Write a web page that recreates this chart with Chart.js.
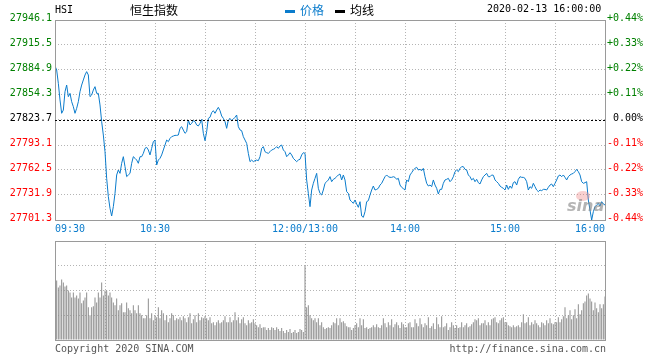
<!DOCTYPE html>
<html>
<head>
<meta charset="utf-8">
<script src="https://cdn.jsdelivr.net/npm/chart.js@4/dist/chart.umd.min.js"></script>
<style>
  body { margin: 0; background: #fff; }
  #wrap { position: relative; width: 660px; height: 360px; }
  #priceChart { position: absolute; left: 0; top: 0; }
  #volChart { position: absolute; left: 0; top: 240px; }
</style>
</head>
<body>
<div id="wrap">
  <canvas id="priceChart" width="660" height="240"></canvas>
  <canvas id="volChart" width="660" height="120"></canvas>
</div>
<script>
const PREV_CLOSE = 27823.7;

// minutes from 09:30, lunch break removed (0..330)
const gridMinutes = [0, 30, 60, 90, 120, 150, 180, 210, 240, 270, 300, 330];
const timeTicks = [0, 60, 150, 210, 270, 330];
const timeLabels = ['09:30', '10:30', '12:00/13:00', '14:00', '15:00', '16:00'];

const priceTicks = [27701.3, 27731.9, 27762.5, 27793.1, 27823.7, 27854.3, 27884.9, 27915.5, 27946.1];
const pctLabels = ['-0.44%', '-0.33%', '-0.22%', '-0.11%', '0.00%', '+0.11%', '+0.22%', '+0.33%', '+0.44%'];
const volTicks = [0, 25, 50, 75, 100];

const prices = [
  27889.8, 27884.9, 27868.6, 27848.2, 27831.9, 27835.9, 27858.4, 27866.5, 27852.3, 27856.3,
  27846.1, 27840.0, 27831.9, 27838.0, 27846.1, 27858.4, 27866.5, 27872.7, 27878.8, 27882.9,
  27878.8, 27852.3, 27854.3, 27860.4, 27864.5, 27856.3, 27856.3, 27842.1, 27821.7, 27805.3,
  27784.9, 27752.3, 27729.9, 27715.6, 27706.2, 27717.6, 27733.9, 27756.4, 27762.5, 27758.4,
  27770.7, 27778.8, 27766.6, 27754.4, 27756.4, 27758.4, 27770.7, 27778.8, 27776.8, 27774.7,
  27770.7, 27778.8, 27778.8, 27782.9, 27789.0, 27790.2, 27787.0, 27780.9, 27789.0, 27797.2,
  27799.2, 27768.6, 27774.7, 27776.8, 27780.9, 27787.0, 27793.1, 27799.2, 27797.2, 27801.2,
  27803.3, 27804.1, 27804.9, 27804.9, 27805.3, 27813.5, 27815.5, 27811.4, 27807.4, 27809.4,
  27823.7, 27817.6, 27819.6, 27822.9, 27821.7, 27817.6, 27816.4, 27819.6, 27824.5, 27807.4,
  27798.4, 27809.4, 27825.7, 27827.0, 27832.7, 27835.1, 27831.9, 27835.9, 27839.2, 27835.1,
  27828.6, 27825.7, 27821.7, 27813.5, 27823.7, 27825.7, 27822.9, 27824.9, 27827.0, 27829.8,
  27815.5, 27811.5, 27810.6, 27803.3, 27799.2, 27795.1, 27782.9, 27772.7, 27774.7, 27772.7,
  27773.9, 27774.7, 27773.9, 27778.8, 27789.0, 27791.1, 27784.9, 27783.7, 27782.9, 27784.9,
  27787.0, 27787.8, 27789.0, 27791.1, 27789.0, 27791.9, 27793.1, 27787.0, 27784.9, 27778.8,
  27780.9, 27783.7, 27780.9, 27776.8, 27774.7, 27772.7, 27774.7, 27775.6, 27780.9, 27783.7,
  27782.9, 27750.3, 27733.9, 27717.6, 27738.0, 27746.2, 27752.3, 27758.4, 27740.1, 27733.9,
  27731.9, 27738.0, 27746.2, 27748.2, 27750.3, 27754.4, 27748.2, 27751.1, 27752.3, 27754.3,
  27756.4, 27757.6, 27750.3, 27756.4, 27750.3, 27736.0, 27734.0, 27725.8, 27723.7, 27721.7,
  27725.8, 27720.9, 27716.8, 27723.7, 27706.2, 27704.6, 27711.5, 27723.7, 27725.0, 27731.9,
  27738.0, 27742.9, 27738.0, 27738.8, 27740.1, 27744.1, 27746.2, 27750.3, 27754.3, 27756.4,
  27754.3, 27753.5, 27753.5, 27754.3, 27753.5, 27751.1, 27752.3, 27744.1, 27741.3, 27739.7,
  27738.0, 27750.3, 27748.2, 27756.4, 27759.2, 27762.5, 27764.5, 27765.8, 27762.5, 27763.3,
  27761.7, 27764.5, 27754.3, 27746.2, 27742.9, 27744.1, 27742.1, 27750.3, 27744.1, 27740.1,
  27733.1, 27738.8, 27738.8, 27746.2, 27750.3, 27751.1, 27752.3, 27748.2, 27750.3, 27754.3,
  27760.5, 27762.5, 27760.5, 27764.5, 27766.6, 27766.6, 27763.3, 27762.5, 27756.4, 27754.3,
  27750.3, 27752.3, 27748.2, 27751.1, 27747.0, 27745.4, 27750.3, 27754.3, 27756.4, 27758.4,
  27754.3, 27754.3, 27756.4, 27756.0, 27750.3, 27748.2, 27746.2, 27742.9, 27741.3, 27740.1,
  27738.0, 27744.1, 27738.8, 27742.9, 27740.1, 27747.0, 27748.2, 27744.1, 27751.1, 27754.3,
  27753.5, 27753.5, 27752.3, 27748.2, 27738.0, 27742.1, 27740.1, 27746.2, 27742.1, 27738.0,
  27736.0, 27738.0, 27737.2, 27738.8, 27738.8, 27738.0, 27741.3, 27744.1, 27745.4, 27742.1,
  27746.2, 27750.3, 27755.2, 27756.4, 27754.3, 27756.4, 27753.5, 27750.3, 27754.3, 27756.4,
  27757.6, 27758.4, 27760.5, 27763.3, 27760.5, 27756.4, 27748.2, 27746.2, 27747.0, 27748.2,
  27725.8, 27713.5, 27701.3, 27711.5, 27717.6, 27719.7, 27721.7, 27718.4, 27723.7, 27720.9, 27719.7
];

const volumes = [
  62, 60, 53, 55, 61, 58, 54, 55, 50, 48, 43, 48, 43, 45, 42, 48, 37, 40, 43, 48, 33, 25, 33, 34, 43, 38, 48, 43, 58, 45,
  50, 50, 45, 48, 43, 38, 35, 42, 30, 35, 37, 28, 28,
  38, 32, 30, 27, 35, 30, 27, 35, 27, 25, 22, 22, 25, 42, 22, 27, 20, 25,
  23, 33, 22, 30, 27, 20, 25, 18, 22, 27, 25, 20, 22, 21, 23, 20, 24, 22, 18, 23, 27, 17, 21, 25, 18, 27, 20, 23, 22, 24,
  22, 20, 23, 17, 18, 15, 18, 20, 17, 18, 20, 24, 18, 18, 23, 18, 20, 28, 20, 23, 17, 21, 23, 17, 15, 20, 17, 18,
  21, 17, 15, 13, 16, 12, 13, 13, 10, 12, 10, 13, 12, 10, 13, 11, 9, 12, 9, 7, 10, 8, 11, 7, 8, 10, 7, 8, 11, 10, 8,
  75,
  33, 35, 25, 22, 20, 22, 18, 22, 15, 18, 13, 11, 12, 13, 12, 15, 18, 17, 22, 15, 22, 18, 19, 17, 14, 13, 13, 10, 12, 15,
  17, 13, 22, 15, 21, 12, 13, 11, 12, 13, 15, 13, 16, 13, 12, 15, 22, 17, 13, 18, 15, 21, 13, 16, 18, 15, 12, 18, 16, 13,
  13, 17, 18, 13, 13, 21, 17, 14, 22, 16, 13, 17, 15, 23, 12, 14, 17, 11, 23, 16, 13, 24, 13, 14, 17, 10, 13, 18, 15, 12,
  15, 12, 13, 18, 13, 15, 17, 13, 14, 16, 18, 21, 20, 22, 15, 17, 17, 20, 15, 18, 15, 21, 22, 23, 18, 17, 20, 22, 23, 18,
  18, 15, 14, 13, 15, 13, 14, 15, 13, 18, 26, 17, 18, 23, 15, 18, 16, 20, 17, 15, 13, 18, 17, 15, 20, 17, 22, 17, 16, 18,
  18, 23, 18, 21, 24, 33, 22, 25, 30, 21, 25, 31, 22, 36, 26, 30, 37, 39, 45, 47, 42, 39, 30, 38, 32, 28, 36, 32, 36, 44
];

const LINE_COLOR = '#0b7ccc';
const GRID_COLOR = '#b4b4b4';
const FRAME_COLOR = '#9a9a9a';
const UP = '#008000', DOWN = '#ff0000';
const MONO = '"DejaVu Sans Mono", monospace';
const CJK = '"Noto Sans CJK SC", sans-serif';

function tickColor(v) {
  if (Math.abs(v - PREV_CLOSE) < 0.05) return '#000';
  return v > PREV_CLOSE ? UP : DOWN;
}

const framePlugin = {
  id: 'frame',
  afterDraw(chart) {
    const { ctx, chartArea: a } = chart;
    ctx.save();
    ctx.strokeStyle = FRAME_COLOR;
    ctx.lineWidth = 1;
    ctx.strokeRect(a.left + 0.5, a.top + 0.5, a.right - a.left, a.bottom - a.top);
    ctx.restore();
  }
};

const headerPlugin = {
  id: 'header',
  afterDraw(chart) {
    const { ctx, scales } = chart;
    ctx.save();
    // 昨收 reference line
    const y = Math.round(scales.y.getPixelForValue(PREV_CLOSE)) + 0.5;
    ctx.strokeStyle = '#000';
    ctx.setLineDash([2, 2]);
    ctx.beginPath();
    ctx.moveTo(chart.chartArea.left, y);
    ctx.lineTo(chart.chartArea.right, y);
    ctx.stroke();
    ctx.setLineDash([]);

    ctx.textBaseline = 'middle';
    ctx.fillStyle = '#000';
    ctx.font = '10px ' + MONO;
    ctx.fillText('HSI', 55, 10);
    ctx.font = '12px ' + CJK;
    ctx.fillText('恒生指数', 130, 10);

    ctx.fillStyle = LINE_COLOR;
    ctx.fillRect(285, 10, 10, 3);
    ctx.fillText('价格', 300, 10);
    ctx.fillStyle = '#000';
    ctx.fillRect(335, 10, 10, 3);
    ctx.fillText('均线', 350, 10);

    ctx.font = '10px ' + MONO;
    ctx.fillText('2020-02-13 16:00:00', 487, 9);

    // watermark
    ctx.fillStyle = 'rgba(235,120,120,0.35)';
    ctx.beginPath();
    ctx.ellipse(583, 196, 7, 5, 0, 0, Math.PI * 2);
    ctx.fill();
    ctx.font = 'italic bold 16px "DejaVu Sans", sans-serif';
    ctx.fillStyle = 'rgba(130,130,130,0.6)';
    ctx.fillText('sina', 567, 207);
    ctx.restore();
  }
};

const footerPlugin = {
  id: 'footer',
  afterDraw(chart) {
    const { ctx } = chart;
    ctx.save();
    ctx.font = '10px ' + MONO;
    ctx.fillStyle = '#555';
    ctx.textBaseline = 'middle';
    ctx.fillText('Copyright 2020 SINA.COM', 55, 109);
    ctx.textAlign = 'right';
    ctx.fillText('http://finance.sina.com.cn', 606, 109);
    ctx.restore();
  }
};

new Chart(document.getElementById('priceChart'), {
  type: 'line',
  data: {
    datasets: [{
      data: prices.map((v, i) => ({ x: i, y: v })),
      borderColor: LINE_COLOR,
      borderWidth: 1,
      pointRadius: 0,
      tension: 0
    }]
  },
  options: {
    responsive: false,
    animation: false,
    layout: { padding: { top: 20, right: 17, left: 0, bottom: 0 } },
    plugins: { legend: { display: false }, tooltip: { enabled: false } },
    scales: {
      x: {
        type: 'linear', min: 0, max: 330,
        afterBuildTicks: s => { s.ticks = gridMinutes.map(v => ({ value: v })); },
        afterFit: s => { s.height = 20; },
        grid: { color: GRID_COLOR, drawTicks: false },
        border: { display: false, dash: [1, 2] },
        ticks: {
          autoSkip: false, maxRotation: 0, align: 'inner', padding: 3,
          color: LINE_COLOR, font: { family: MONO, size: 10 },
          callback: v => { const k = timeTicks.indexOf(v); return k === -1 ? '' : timeLabels[k]; }
        }
      },
      y: {
        min: priceTicks[0], max: priceTicks[priceTicks.length - 1],
        afterBuildTicks: s => { s.ticks = priceTicks.map(v => ({ value: v })); },
        afterFit: s => { s.width = 55; },
        grid: { color: GRID_COLOR, drawTicks: false },
        border: { display: false, dash: [1, 2] },
        ticks: {
          padding: 3, labelOffset: -2,
          font: { family: MONO, size: 10 },
          color: c => tickColor(c.tick.value),
          callback: v => v.toFixed(1)
        }
      },
      y2: {
        position: 'right',
        min: priceTicks[0], max: priceTicks[priceTicks.length - 1],
        afterBuildTicks: s => { s.ticks = priceTicks.map(v => ({ value: v })); },
        afterFit: s => { s.width = 38; },
        grid: { display: false, drawTicks: false },
        border: { display: false },
        ticks: {
          crossAlign: 'far', labelOffset: -2,
          font: { family: MONO, size: 10 },
          color: c => tickColor(c.tick.value),
          callback: (v, i) => pctLabels[i]
        }
      }
    }
  },
  plugins: [framePlugin, headerPlugin]
});

new Chart(document.getElementById('volChart'), {
  type: 'bar',
  data: {
    datasets: [{
      data: volumes.map((v, i) => ({ x: i, y: v })),
      backgroundColor: '#8e8e8e',
      barThickness: 1,
      inflateAmount: 0
    }]
  },
  options: {
    responsive: false,
    animation: false,
    layout: { padding: { top: 1, right: 17, left: 0, bottom: 20 } },
    plugins: { legend: { display: false }, tooltip: { enabled: false } },
    scales: {
      x: {
        type: 'linear', min: 0, max: 330, offset: false,
        afterBuildTicks: s => { s.ticks = gridMinutes.map(v => ({ value: v })); },
        afterFit: s => { s.height = 0; },
        grid: { color: GRID_COLOR, drawTicks: false, offset: false },
        border: { display: false, dash: [1, 2] },
        ticks: { display: false }
      },
      y: {
        min: 0, max: 100,
        afterBuildTicks: s => { s.ticks = volTicks.map(v => ({ value: v })); },
        afterFit: s => { s.width = 55; },
        grid: { color: GRID_COLOR, drawTicks: false },
        border: { display: false, dash: [1, 2] },
        ticks: { display: false }
      },
      y2: {
        position: 'right', min: 0, max: 100,
        afterFit: s => { s.width = 38; },
        grid: { display: false, drawTicks: false },
        border: { display: false },
        ticks: { display: false }
      }
    }
  },
  plugins: [framePlugin, footerPlugin]
});
</script>
</body>
</html>
